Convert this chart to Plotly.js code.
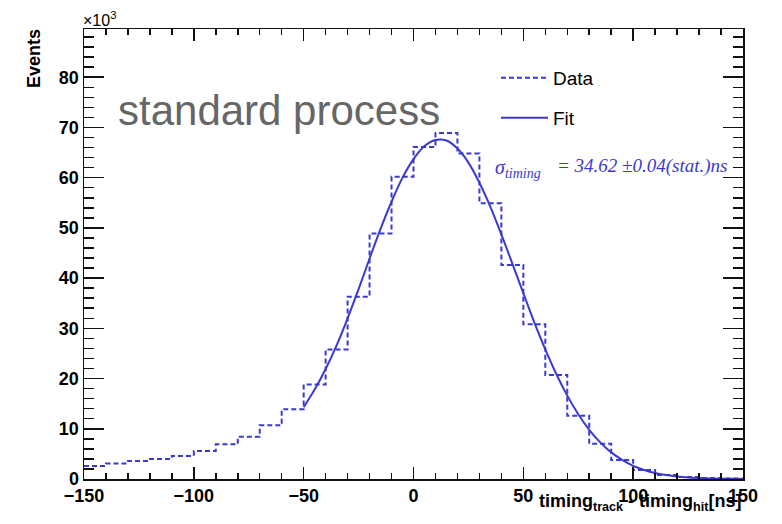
<!DOCTYPE html>
<html>
<head>
<meta charset="utf-8">
<script src="https://cdn.plot.ly/plotly-3.0.1.min.js"></script>
<style>html,body{margin:0;padding:0;background:#fff;}#chart{width:782px;height:524px;}</style>
</head>
<body>
<div id="chart"></div>
<script>
// Histogram bin edges (ns) and data counts (x10^3 events)
const binLow = [-150,-140,-130,-120,-110,-100,-90,-80,-70,-60,-50,-40,-30,-20,-10,0,10,20,30,40,50,60,70,80,90,100,110,120,130,140];
const binHigh = 150;
const dataCounts = [2.6,3.1,3.6,4.0,4.6,5.6,6.9,8.4,10.7,13.9,18.8,25.8,36.3,48.9,60.2,66.1,68.9,64.8,54.9,42.6,30.8,20.7,12.6,7.0,3.8,1.8,0.8,0.4,0.2,0.1];

// Fit curve points (x10^3 events)
const fitX = [-50,-45,-40,-35,-30,-25,-20,-15,-10,-5,0,5,10,15,20,25,30,35,40,45,50,55,60,65,70,75,80,85,90,95,100,105,110,115,120,125,130,135,140,145,150];
const fitY = [14.3,17.8,21.9,26.6,32.0,37.8,43.9,49.8,55.2,60.0,63.7,66.3,67.5,67.4,65.8,63.0,59.0,54.2,48.7,42.9,37.0,31.2,25.8,20.9,16.6,12.9,9.8,7.3,5.3,3.8,2.6,1.8,1.2,0.8,0.5,0.3,0.2,0.12,0.07,0.04,0.02];

const xTickVals = [-150,-100,-50,0,50,100,150];
const yTickVals = [0,10,20,30,40,50,60,70,80];

const blue = 'rgb(58,58,208)';
const L = 84, R = 743, T = 29, B = 479;
const px = x => (x - L) / (R - L);
const py = y => (B - y) / (B - T);

// step outline: edges with last value repeated
const stepX = binLow.concat([binHigh]);
const stepY = dataCounts.concat([dataCounts[dataCounts.length - 1]]);

const traces = [
  {x: stepX, y: stepY, type: 'scatter', mode: 'lines', name: 'Data',
   line: {shape: 'hv', color: blue, width: 2, dash: '5px,3px'}, legend: 'legend', hoverinfo: 'skip'},
  {x: fitX, y: fitY, type: 'scatter', mode: 'lines', name: 'Fit',
   line: {shape: 'spline', color: blue, width: 2}, legend: 'legend2', hoverinfo: 'skip'}
];

const tickFont = {family: 'Liberation Sans, Arial, sans-serif', size: 18, color: '#000', weight: 'bold'};
const legFont = {family: 'Liberation Sans, Arial, sans-serif', size: 19, color: '#000'};

const layout = {
  width: 782, height: 524,
  margin: {l: L, r: 782 - R, t: T, b: 524 - B},
  paper_bgcolor: '#fff', plot_bgcolor: '#fff',
  showlegend: true,
  hovermode: false,
  xaxis: {
    range: [-150, 150], tickvals: xTickVals, ticktext: xTickVals.map(v => v < 0 ? '\u2212' + Math.abs(v) : String(v)),
    ticks: 'inside', ticklen: 12, tickwidth: 1.5, tickcolor: '#111',
    minor: {dtick: 10, tick0: 0, ticks: 'inside', ticklen: 6, tickwidth: 1.5, tickcolor: '#111', showgrid: false},
    showline: true, linecolor: '#111', linewidth: 1.5, mirror: 'ticks',
    showgrid: false, zeroline: false, tickfont: tickFont
  },
  yaxis: {
    range: [0, 89.6], tickvals: yTickVals,
    ticks: 'inside', ticklen: 20, tickwidth: 1.5, tickcolor: '#111',
    minor: {dtick: 2, tick0: 0, ticks: 'inside', ticklen: 10, tickwidth: 1.5, tickcolor: '#111', showgrid: false},
    showline: true, linecolor: '#111', linewidth: 1.5, mirror: 'ticks',
    showgrid: false, zeroline: false, tickfont: tickFont
  },
  legend: {x: px(496), y: py(78), xanchor: 'left', yanchor: 'middle', bgcolor: 'rgba(0,0,0,0)', itemwidth: 47, font: legFont},
  legend2: {x: px(496), y: py(118), xanchor: 'left', yanchor: 'middle', bgcolor: 'rgba(0,0,0,0)', itemwidth: 47, font: legFont},
  annotations: [
    {text: 'standard process', xref: 'paper', yref: 'paper', x: px(116), y: py(111), xanchor: 'left', yanchor: 'middle',
     showarrow: false, font: {family: 'Liberation Sans, Arial, sans-serif', size: 42, color: '#666'}},
    {text: '\u03c3<sub>timing</sub>', xref: 'paper', yref: 'paper', x: px(493), y: py(168), xanchor: 'left', yanchor: 'middle',
     showarrow: false, font: {family: 'Liberation Serif, Times New Roman, serif', size: 20, color: blue, style: 'italic'}},
    {text: '= 34.62 \u00b10.04(stat.)ns', xref: 'paper', yref: 'paper', x: px(555), y: py(166), xanchor: 'left', yanchor: 'middle',
     showarrow: false, font: {family: 'Liberation Serif, Times New Roman, serif', size: 19, color: blue, style: 'italic'}},
    {text: '\u00d710<sup>3</sup>', xref: 'paper', yref: 'paper', x: px(81), y: py(19), xanchor: 'left', yanchor: 'middle',
     showarrow: false, font: {family: 'Liberation Sans, Arial, sans-serif', size: 16, color: '#000'}},
    {text: 'Events', xref: 'paper', yref: 'paper', x: px(34), y: py(59), xanchor: 'center', yanchor: 'middle', textangle: -90,
     showarrow: false, font: {family: 'Liberation Sans, Arial, sans-serif', size: 18, color: '#000', weight: 'bold'}},
    {text: 'timing<sub>track</sub> - timing<sub>hit</sub>[ns]', xref: 'paper', yref: 'paper', x: px(744), y: py(503), xanchor: 'right', yanchor: 'middle',
     showarrow: false, font: {family: 'Liberation Sans, Arial, sans-serif', size: 18, color: '#000', weight: 'bold'}}
  ]
};

Plotly.newPlot('chart', traces, layout, {displayModeBar: false, staticPlot: true});
</script>
</body>
</html>
